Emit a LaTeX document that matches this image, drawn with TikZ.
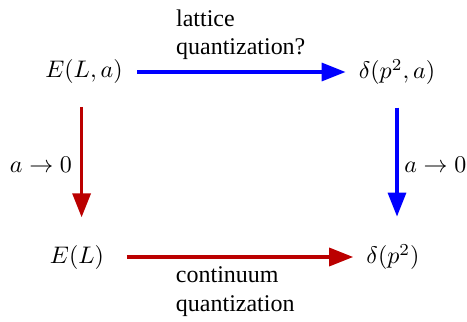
\documentclass[tikz,border=0pt]{standalone}
\usepackage{fontspec}
\setmainfont{Liberation Serif}
\usetikzlibrary{arrows.meta}
\definecolor{latblue}{RGB}{0,0,255}
\definecolor{contred}{RGB}{187,0,0}

\begin{document}
\begin{tikzpicture}[
    x=0.417pt, y=-0.417pt,
    quant/.style={font=\normalsize},
    arr/.style={-{Triangle[length=10pt, width=7.5pt]}, line width=1.4pt},
    lbl/.style={align=left, font=\normalsize},
  ]
  \useasboundingbox (0,0) rectangle (467,321);

  % -- corners --
  \node[quant] (ela) at (84,72) {$E(L,a)$};
  \node[quant] (dpa) at (397,72) {$\delta(p^2,a)$};
  \node[quant] (el)  at (77,257) {$E(L)$};
  \node[quant] (dp)  at (393,257) {$\delta(p^2)$};

  % -- arrows --
  % lattice quantization
  \draw[arr, latblue, shorten <=2.5pt, shorten >=2pt] (ela) -- node[lbl, midway, above=1pt, text=black]
    {lattice\\quantization?} (dpa);

  % continuum limits
  \draw[arr, contred, shorten <=6pt, shorten >=8pt] ([xshift=-1pt]ela.south) -- node[lbl, midway, left=0pt, text=black]
    {$a\to0$} ([xshift=-1pt]ela.south |- el.north);
  \draw[arr, latblue, shorten <=6pt, shorten >=8pt] (dpa.south) -- node[lbl, midway, right=-1pt, text=black]
    {$a\to0$} (dpa.south |- dp.north);

  % continuum quantization
  \draw[arr, contred, shorten <=6pt, shorten >=2pt] (el) -- node[lbl, midway, below=0pt, text=black]
    {continuum\\quantization} (dp);

\end{tikzpicture}
\end{document}
